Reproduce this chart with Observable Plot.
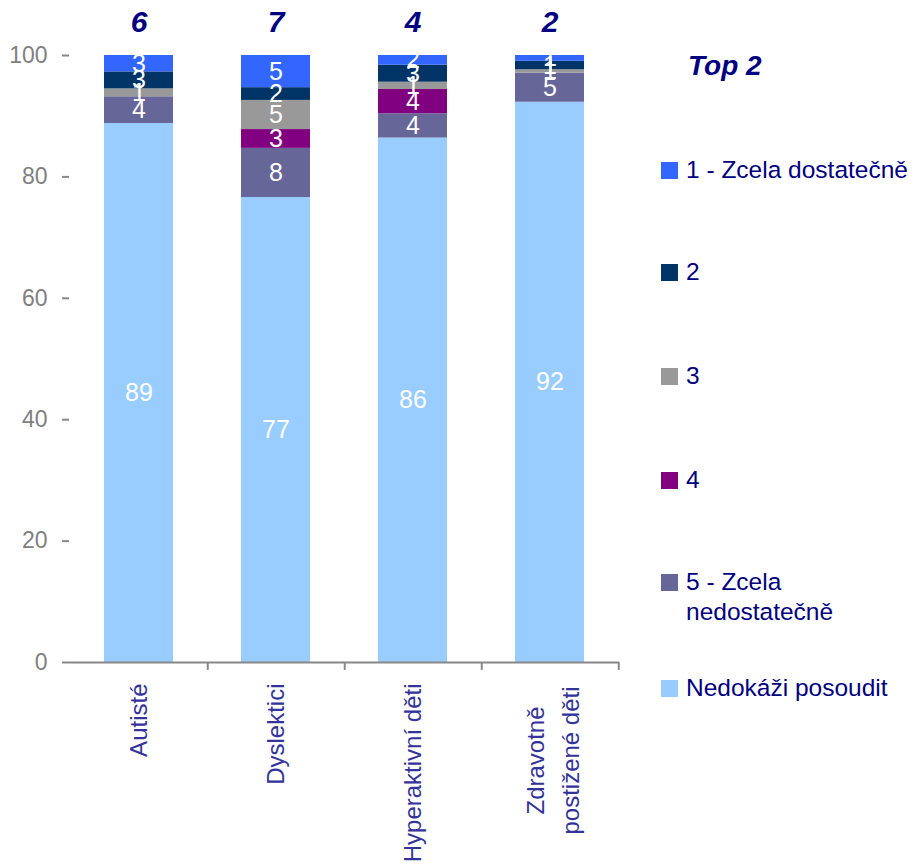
<!DOCTYPE html>
<html>
<head>
<meta charset="utf-8">
<script src="https://cdn.jsdelivr.net/npm/d3@7"></script>
<script src="https://cdn.jsdelivr.net/npm/@observablehq/plot@0.6"></script>
<style>
  html, body { margin: 0; padding: 0; background: #fff; }
  #wrap { position: relative; width: 916px; height: 866px; overflow: hidden; font-family: "Liberation Sans", Arial, sans-serif; }
  #chart { position: absolute; left: 0; top: 0; }
  .legend-title { position: absolute; left: 688px; top: 50px; font-size: 28px; font-weight: bold; font-style: italic; color: #000080; }
  .legend-item { position: absolute; left: 661px; display: flex; align-items: flex-start; color: #000080; font-size: 24.5px; line-height: 30px; }
  .legend-item .sw { width: 17px; height: 17px; margin-top: 7px; margin-right: 8px; flex: none; }
</style>
</head>
<body>
<div id="wrap">
  <div id="chart"></div>
</div>
<script>
// ---- data ----
const categories = ["Autisté", "Dyslektici", "Hyperaktivní děti", "Zdravotně\npostižené děti"];
const series = ["Nedokáži posoudit", "5 - Zcela nedostatečně", "4", "3", "2", "1 - Zcela dostatečně"];
const colors = ["#99CCFF", "#666699", "#800080", "#999999", "#003366", "#3366FF"];
const nedokazi = [88.8, 76.6, 86.4, 92.3];
const v5 = [4.4, 8.1, 4.0, 4.8];
const v4 = [0, 3.1, 4.0, 0];
const v3 = [1.3, 4.8, 1.2, 0.55];
const v2 = [2.8, 2.1, 2.8, 1.4];
const v1 = [2.7, 5.3, 1.6, 0.95];
const top2 = [6, 7, 4, 2];
const yTicks = [0, 20, 40, 60, 80, 100];

const seriesValues = [nedokazi, v5, v4, v3, v2, v1];
const rows = [];
series.forEach((s, si) => {
  categories.forEach((c, ci) => rows.push({cat: c, series: s, value: seriesValues[si][ci]}));
});
const topRows = categories.map((c, i) => ({cat: c, top: top2[i]}));

const grey = "#888888";
const chart = Plot.plot({
  width: 660,
  height: 866,
  marginLeft: 69,
  marginRight: 41,
  marginTop: 55,
  marginBottom: 204,
  style: {fontFamily: "'Liberation Sans', Arial, sans-serif", background: "transparent", overflow: "visible"},
  x: {domain: categories, paddingInner: 0.5, paddingOuter: 0.25, axis: null},
  y: {domain: [0, 100], axis: null},
  color: {domain: series, range: colors},
  marks: [
    Plot.barY(rows, {x: "cat", y: "value", fill: "series", z: "series", order: series}),
    Plot.text(rows, Plot.stackY({
      x: "cat", y: "value", z: "series", order: series,
      text: d => d.value > 0 ? String(Math.round(d.value)) : "",
      fill: "white", fontSize: 25
    })),
    Plot.axisY({ticks: yTicks, tickSize: 7, stroke: grey, strokeWidth: 2, strokeOpacity: 1, line: true, label: null, tickFormat: () => ""}),
    Plot.text(yTicks, {y: d => d, frameAnchor: "left", dx: -22, textAnchor: "end", text: d => String(d), fill: "#808080", fontSize: 23}),
    Plot.ruleY([0], {stroke: grey, strokeWidth: 2}),
    Plot.ruleX(categories, {x: d => d, dx: 68.75, y1: 0, y2: -1.3, stroke: grey, strokeWidth: 2}),
    Plot.text(topRows, {x: "cat", y: () => 100, text: "top", dy: -33, fill: "#000080", fontSize: 30, fontWeight: "bold", fontStyle: "italic"}),
    Plot.text(categories.filter(c => !c.includes("\n")), {x: d => d, y: () => 0, text: d => d, rotate: -90, textAnchor: "end", lineAnchor: "middle", dy: 21, fill: "#333399", fontSize: 24}),
    Plot.text(categories.filter(c => c.includes("\n")), {x: d => d, y: () => 0, text: d => d, rotate: -90, textAnchor: "middle", lineAnchor: "middle", lineHeight: 1.45, dy: 98, fill: "#333399", fontSize: 24})
  ]
});
document.getElementById("chart").appendChild(chart);

// ---- legend ----
const wrap = document.getElementById("wrap");
const title = document.createElement("div");
title.className = "legend-title";
title.textContent = "Top 2";
wrap.appendChild(title);
const legendOrder = ["1 - Zcela dostatečně", "2", "3", "4", "5 - Zcela nedostatečně", "Nedokáži posoudit"];
const legendTops = [155, 257, 361, 465, 567, 673];
legendOrder.forEach((s, i) => {
  const item = document.createElement("div");
  item.className = "legend-item";
  item.style.top = legendTops[i] + "px";
  const sw = document.createElement("span");
  sw.className = "sw";
  sw.style.background = colors[series.indexOf(s)];
  const t = document.createElement("span");
  if (s === "5 - Zcela nedostatečně") t.innerHTML = "5 - Zcela<br>nedostatečně";
  else t.textContent = s;
  item.appendChild(sw);
  item.appendChild(t);
  wrap.appendChild(item);
});
</script>
</body>
</html>
